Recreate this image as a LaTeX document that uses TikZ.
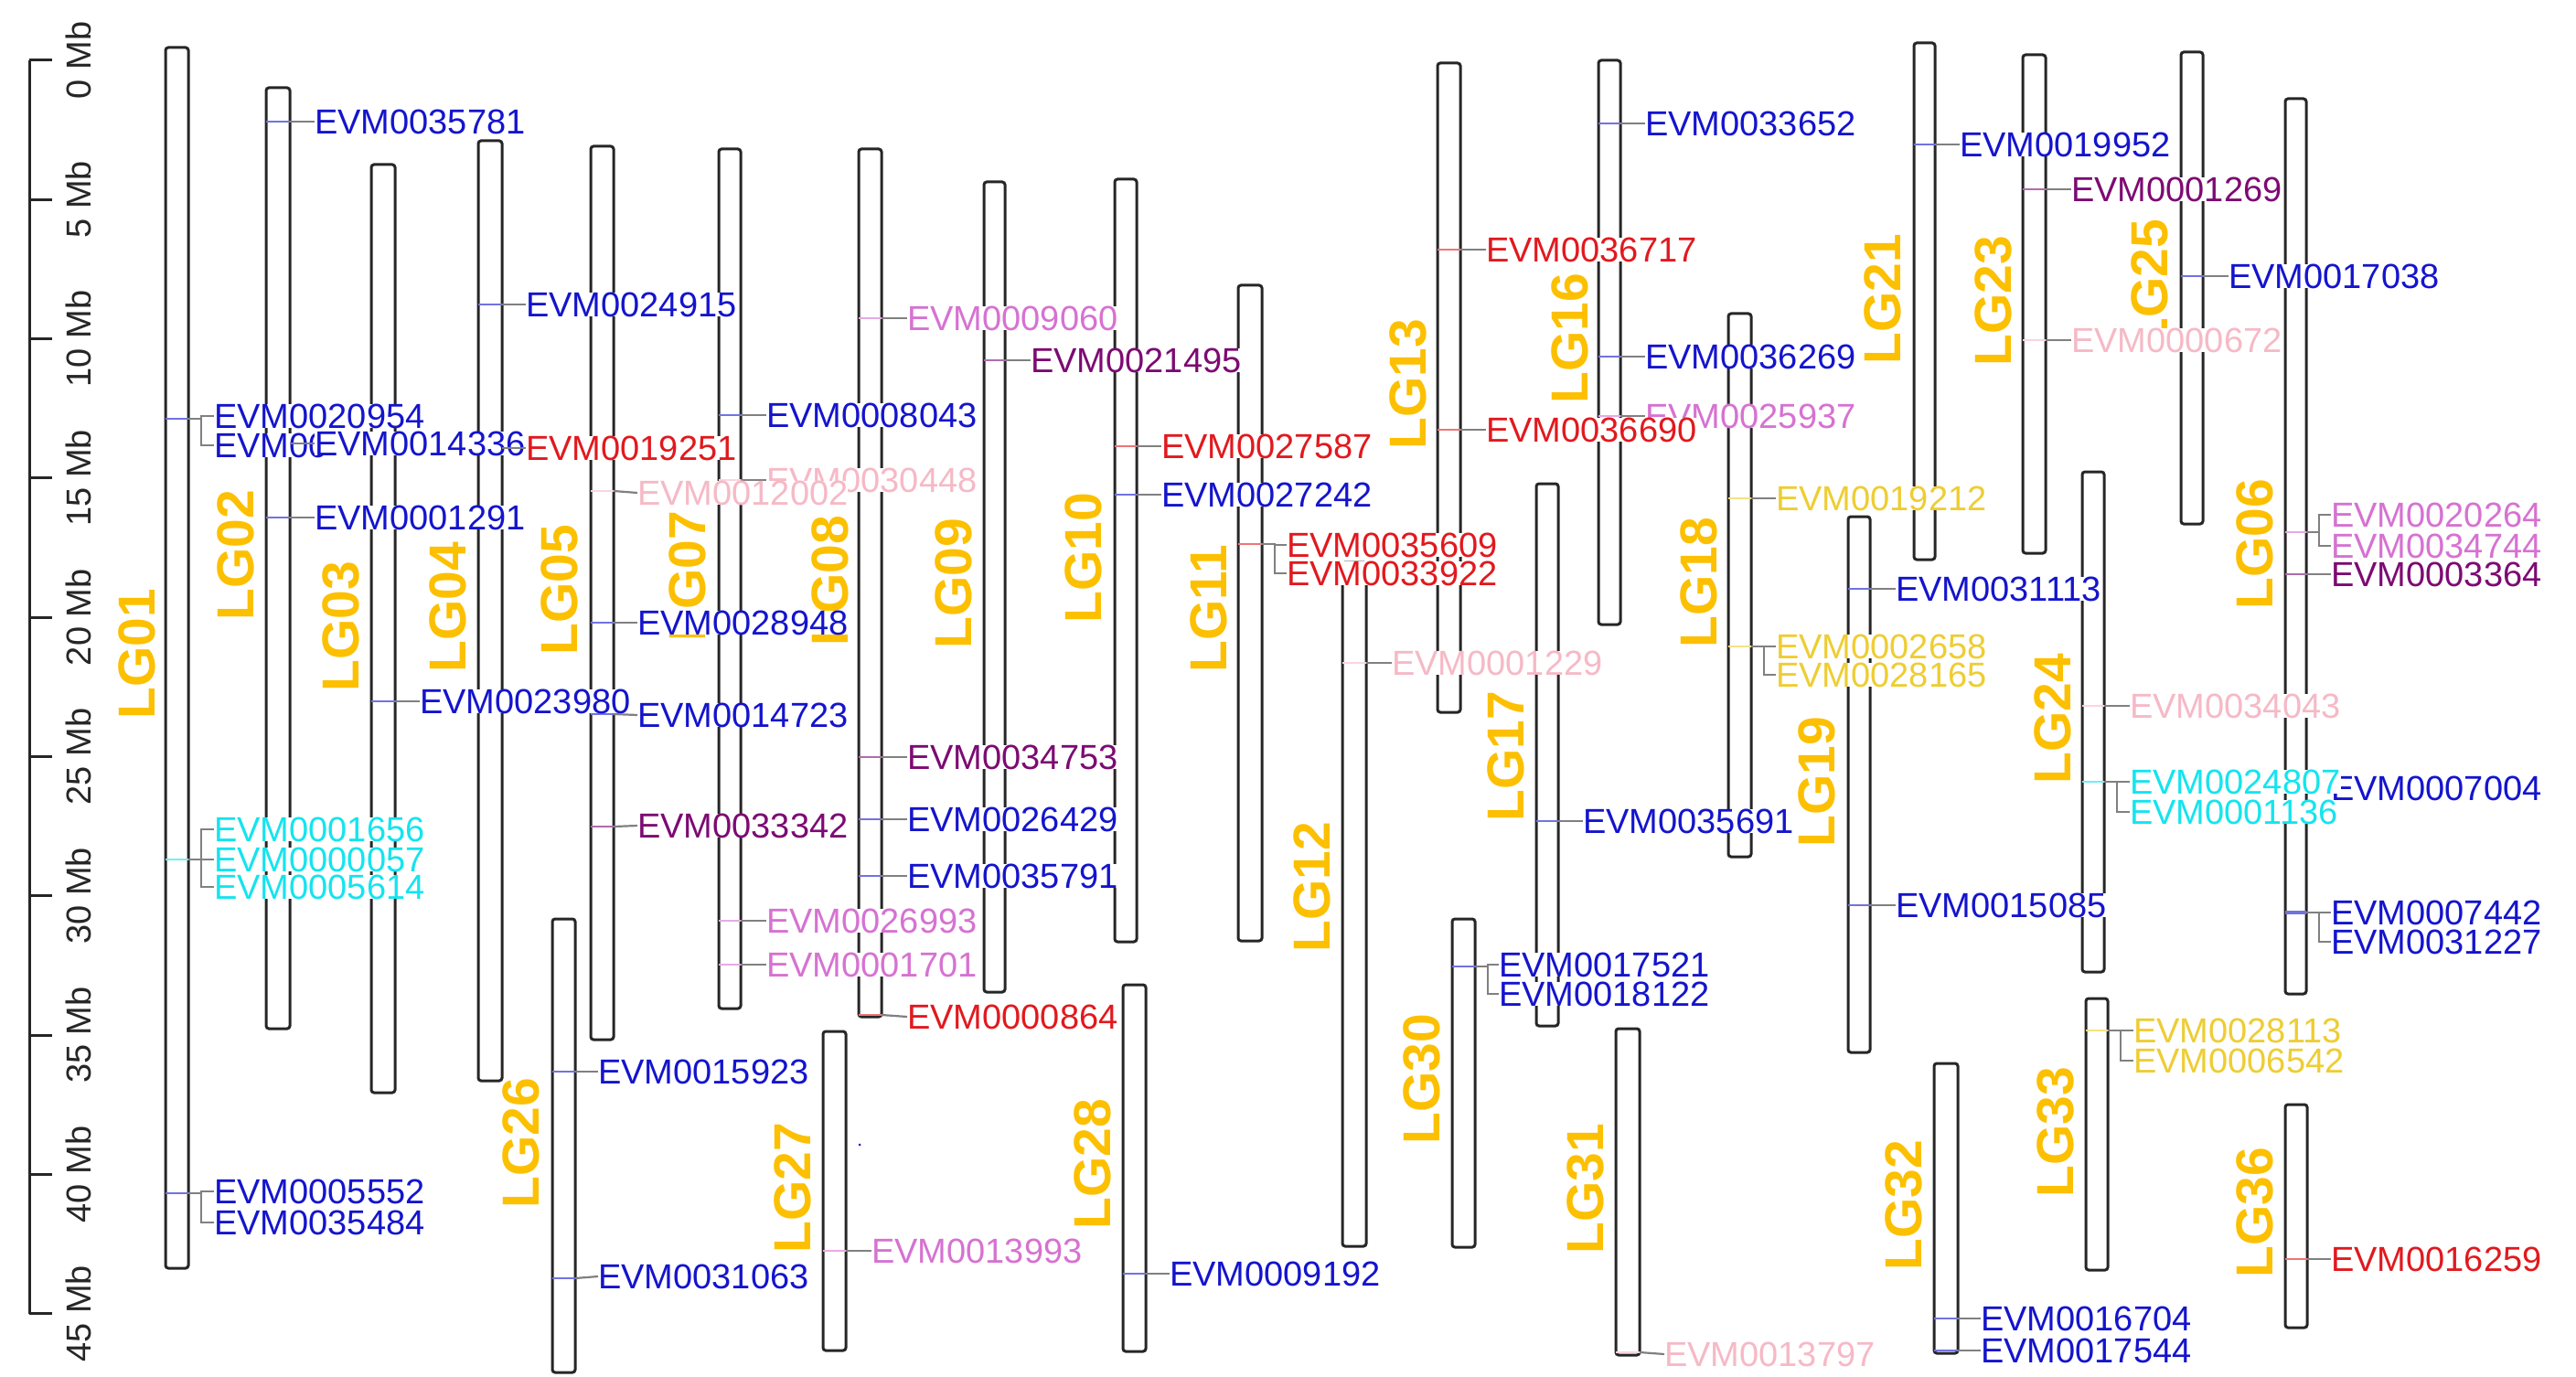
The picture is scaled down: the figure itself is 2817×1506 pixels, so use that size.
\documentclass[tikz,border=0pt]{standalone}
\usepackage{fontspec}
\setmainfont{Liberation Sans}
\usepackage{tikz}

\definecolor{lggold}{RGB}{252,192,0}
\definecolor{gblue}{RGB}{20,20,205}
\definecolor{gred}{RGB}{225,25,30}
\definecolor{gpink}{RGB}{246,185,198}
\definecolor{gorchid}{RGB}{214,114,210}
\definecolor{gpurple}{RGB}{125,10,115}
\definecolor{gcyan}{RGB}{20,228,238}
\definecolor{ggold}{RGB}{238,205,50}
\newcommand\genefont{\fontsize{38}{40}\selectfont}
\newcommand\lgfont{\fontsize{57}{60}\selectfont\bfseries}

\begin{document}
\begin{tikzpicture}
  [x=1pt, y=-1pt,
   chrom/.style={draw=black!85, line width=3pt, rounded corners=3pt},
   tag/.style={draw=#1!60, line width=2pt},
   link/.style={draw=gray, line width=2.2pt},
   lgname/.style={rotate=90, inner sep=0pt, font=\lgfont, text=lggold},
   gene/.style={anchor=west, inner sep=0pt, fill=white, font=\genefont, text=#1},
   axis/.style={draw=black!85, line width=3pt},
   mblabel/.style={rotate=90, inner sep=0pt, font=\genefont, text=black!85}]
  \useasboundingbox (0,0) rectangle (2817,1506);
  \fill[white] (0,0) rectangle (2817,1506);

  \draw[axis] (32,66) -- (32,1437);
  \foreach \k in {0,...,9} {
    \pgfmathsetmacro\ty{66+152.3*\k}
    \pgfmathtruncatemacro\mb{5*\k}
    \draw[axis] (32,\ty) -- (57,\ty);
    \node[mblabel] (mb\k) at (86,\ty) {\mb\ Mb};
  }

  \draw[chrom] (181,52) rectangle (206,1387);
  \draw[tag=gblue] (181,458) -- (206,458) coordinate (m20954);
  \draw[tag=gcyan] (181,940) -- (206,940) coordinate (m01656);
  \draw[tag=gblue] (181,1305) -- (206,1305) coordinate (m05552);

  \draw[chrom] (291,96) rectangle (317,1125);
  \draw[tag=gblue] (291,133) -- (317,133) coordinate (m35781);
  \draw[tag=gblue] (291,485) -- (317,485) coordinate (m14336);
  \draw[tag=gblue] (291,566) -- (317,566) coordinate (m01291);

  \draw[chrom] (406,180) rectangle (432,1195);
  \draw[tag=gblue] (406,767) -- (432,767) coordinate (m23980);

  \draw[chrom] (523,154) rectangle (549,1182);
  \draw[tag=gblue] (523,333) -- (549,333) coordinate (m24915);
  \draw[tag=gred] (523,490) -- (549,490) coordinate (m19251);

  \draw[chrom] (646,160) rectangle (671,1137);
  \draw[tag=gpink] (646,537) -- (671,537) coordinate (m12002);
  \draw[tag=gblue] (646,681) -- (671,681) coordinate (m28948);
  \draw[tag=gblue] (646,781) -- (671,781) coordinate (m14723);
  \draw[tag=gpurple] (646,904) -- (671,904) coordinate (m33342);

  \draw[chrom] (786,163) rectangle (810,1103);
  \draw[tag=gblue] (786,454) -- (810,454) coordinate (m08043);
  \draw[tag=gpink] (786,525) -- (810,525) coordinate (m30448);
  \draw[tag=gorchid] (786,1007) -- (810,1007) coordinate (m26993);
  \draw[tag=gorchid] (786,1055) -- (810,1055) coordinate (m01701);

  \draw[chrom] (939,163) rectangle (964,1112);
  \draw[tag=gorchid] (939,348) -- (964,348) coordinate (m09060);
  \draw[tag=gpurple] (939,828) -- (964,828) coordinate (m34753);
  \draw[tag=gblue] (939,896) -- (964,896) coordinate (m26429);
  \draw[tag=gblue] (939,958) -- (964,958) coordinate (m35791);
  \draw[tag=gred] (939,1110) -- (964,1110) coordinate (m00864);

  \draw[chrom] (1076,199) rectangle (1099,1085);
  \draw[tag=gpurple] (1076,394) -- (1099,394) coordinate (m21495);

  \draw[chrom] (1219,196) rectangle (1243,1030);
  \draw[tag=gred] (1219,488) -- (1243,488) coordinate (m27587);
  \draw[tag=gblue] (1219,541) -- (1243,541) coordinate (m27242);

  \draw[chrom] (1354,312) rectangle (1380,1029);
  \draw[tag=gred] (1354,595) -- (1380,595) coordinate (m35609);

  \draw[chrom] (1468,615) rectangle (1494,1363);
  \draw[tag=gpink] (1468,725) -- (1494,725) coordinate (m01229);

  \draw[chrom] (1572,69) rectangle (1597,779);
  \draw[tag=gred] (1572,273) -- (1597,273) coordinate (m36717);
  \draw[tag=gred] (1572,470) -- (1597,470) coordinate (m36690);

  \draw[chrom] (1748,66) rectangle (1772,683);
  \draw[tag=gblue] (1748,135) -- (1772,135) coordinate (m33652);
  \draw[tag=gblue] (1748,390) -- (1772,390) coordinate (m36269);
  \draw[tag=gorchid] (1748,455) -- (1772,455) coordinate (m25937);

  \draw[chrom] (1680,529) rectangle (1704,1122);
  \draw[tag=gblue] (1680,898) -- (1704,898) coordinate (m35691);

  \draw[chrom] (1890,343) rectangle (1915,937);
  \draw[tag=ggold] (1890,545) -- (1915,545) coordinate (m19212);
  \draw[tag=ggold] (1890,707) -- (1915,707) coordinate (m02658);

  \draw[chrom] (2021,565) rectangle (2045,1151);
  \draw[tag=gblue] (2021,644) -- (2045,644) coordinate (m31113);
  \draw[tag=gblue] (2021,990) -- (2045,990) coordinate (m15085);

  \draw[chrom] (2093,47) rectangle (2116,612);
  \draw[tag=gblue] (2093,158) -- (2116,158) coordinate (m19952);

  \draw[chrom] (2212,60) rectangle (2237,605);
  \draw[tag=gpurple] (2212,207) -- (2237,207) coordinate (m01269);
  \draw[tag=gpink] (2212,372) -- (2237,372) coordinate (m00672);

  \draw[chrom] (2385,57) rectangle (2409,573);
  \draw[tag=gblue] (2385,302) -- (2409,302) coordinate (m17038);

  \draw[chrom] (2499,108) rectangle (2522,1087);
  \draw[tag=gorchid] (2499,582) -- (2522,582) coordinate (m20264);
  \draw[tag=gpurple] (2499,628) -- (2522,628) coordinate (m03364);
  \draw[tag=gblue] (2499,862) -- (2522,862) coordinate (m07004);
  \draw[tag=gblue, line width=3.5pt] (2499,998) -- (2522,998) coordinate (m07442);

  \draw[chrom] (2277,516) rectangle (2301,1063);
  \draw[tag=gpink] (2277,772) -- (2301,772) coordinate (m34043);
  \draw[tag=gcyan] (2277,855) -- (2301,855) coordinate (m24807);

  \draw[chrom] (604,1005) rectangle (629,1501);
  \draw[tag=gblue] (604,1172) -- (629,1172) coordinate (m15923);
  \draw[tag=gblue] (604,1398) -- (629,1398) coordinate (m31063);

  \draw[chrom] (900,1128) rectangle (925,1477);
  \draw[tag=gorchid] (900,1368) -- (925,1368) coordinate (m13993);
  \fill[gblue] (940,1252) circle (1.5);

  \draw[chrom] (1228,1077) rectangle (1253,1478);
  \draw[tag=gblue] (1228,1393) -- (1253,1393) coordinate (m09192);

  \draw[chrom] (1588,1005) rectangle (1613,1364);
  \draw[tag=gblue] (1588,1057) -- (1613,1057) coordinate (m17521);

  \draw[chrom] (1767,1125) rectangle (1793,1482);
  \draw[tag=gpink] (1767,1479) -- (1793,1479) coordinate (m13797);

  \draw[chrom] (2115,1163) rectangle (2141,1480);
  \draw[tag=gblue] (2115,1442) -- (2141,1442) coordinate (m16704);
  \draw[tag=gblue] (2115,1477) -- (2141,1477) coordinate (m17544);

  \draw[chrom] (2281,1092) rectangle (2305,1389);
  \draw[tag=ggold] (2281,1127) -- (2305,1127) coordinate (m28113);

  \draw[chrom] (2499,1208) rectangle (2523,1452);
  \draw[tag=gred] (2499,1377) -- (2523,1377) coordinate (m16259);

  \node[lgname] (lg01) at (150,715) {LG01};
  \node[lgname] (lg02) at (258,607) {LG02};
  \node[lgname] (lg03) at (373,685) {LG03};
  \node[lgname] (lg04) at (490,664) {LG04};
  \node[lgname] (lg05) at (612,645) {LG05};
  \node[lgname] (lg07) at (752,630) {LG07};
  \node[lgname] (lg08) at (908,635) {LG08};
  \node[lgname] (lg09) at (1043,638) {LG09};
  \node[lgname] (lg10) at (1185,610) {LG10};
  \node[lgname] (lg11) at (1322,666) {LG11};
  \node[lgname] (lg12) at (1435,970) {LG12};
  \node[lgname] (lg13) at (1540,420) {LG13};
  \node[lgname] (lg16) at (1717,370) {LG16};
  \node[lgname] (lg17) at (1647,827) {LG17};
  \node[lgname] (lg18) at (1858,637) {LG18};
  \node[lgname] (lg19) at (1987,855) {LG19};
  \node[lgname] (lg21) at (2059,327) {LG21};
  \node[lgname] (lg23) at (2180,329) {LG23};
  \node[lgname] (lg25) at (2351,311) {LG25};
  \node[lgname] (lg06) at (2466,595) {LG06};
  \node[lgname] (lg24) at (2245,786) {LG24};
  \node[lgname] (lg26) at (570,1250) {LG26};
  \node[lgname] (lg27) at (867,1299) {LG27};
  \node[lgname] (lg28) at (1195,1273) {LG28};
  \node[lgname] (lg30) at (1555,1180) {LG30};
  \node[lgname] (lg31) at (1734,1300) {LG31};
  \node[lgname] (lg32) at (2082,1318) {LG32};
  \node[lgname] (lg33) at (2248,1238) {LG33};
  \node[lgname] (lg36) at (2466,1326) {LG36};

  \node[gene=gblue] (e20954) at (234,455) {EVM0020954};
  \node[gene=gblue] (e00) at (234,487) {EVM00};
  \node[gene=gcyan] (e01656) at (234,907) {EVM0001656};
  \node[gene=gcyan] (e00057) at (234,940) {EVM0000057};
  \node[gene=gcyan] (e05614) at (234,970) {EVM0005614};
  \node[gene=gblue] (e05552) at (234,1303) {EVM0005552};
  \node[gene=gblue] (e35484) at (234,1337) {EVM0035484};
  \draw[link] (m20954) -- ++(14,0) |- (e20954.west);
  \draw[link] (m20954) -- ++(14,0) |- (e00.west);
  \draw[link] (m01656) -- ++(14,0) |- (e01656.west);
  \draw[link] (m01656) -- ++(14,0) |- (e00057.west);
  \draw[link] (m01656) -- ++(14,0) |- (e05614.west);
  \draw[link] (m05552) -- ++(14,0) |- (e05552.west);
  \draw[link] (m05552) -- ++(14,0) |- (e35484.west);

  \node[gene=gblue] (e35781) at (344,133) {EVM0035781};
  \node[gene=gblue] (e14336) at (344,485) {EVM0014336};
  \node[gene=gblue] (e01291) at (344,566) {EVM0001291};
  \draw[link] (m35781) -- (e35781.west);
  \draw[link] (m14336) -- (e14336.west);
  \draw[link] (m01291) -- (e01291.west);

  \node[gene=gblue] (e23980) at (459,767) {EVM0023980};
  \draw[link] (m23980) -- (e23980.west);

  \node[gene=gblue] (e24915) at (575,333) {EVM0024915};
  \node[gene=gred] (e19251) at (575,490) {EVM0019251};
  \draw[link] (m24915) -- (e24915.west);
  \draw[link] (m19251) -- (e19251.west);

  \node[gene=gblue] (e08043) at (838,454) {EVM0008043};
  \node[gene=gpink] (e30448) at (838,525) {EVM0030448};
  \node[gene=gorchid] (e26993) at (838,1007) {EVM0026993};
  \node[gene=gorchid] (e01701) at (838,1055) {EVM0001701};
  \draw[link] (m08043) -- (e08043.west);
  \draw[link] (m30448) -- (e30448.west);
  \draw[link] (m26993) -- (e26993.west);
  \draw[link] (m01701) -- (e01701.west);

  \node[gene=gpink] (e12002) at (697,539) {EVM0012002};
  \node[gene=gblue] (e28948) at (697,681) {EVM0028948};
  \node[gene=gblue] (e14723) at (697,782) {EVM0014723};
  \node[gene=gpurple] (e33342) at (697,903) {EVM0033342};
  \draw[link] (m12002) -- (e12002.west);
  \draw[link] (m28948) -- (e28948.west);
  \draw[link] (m14723) -- (e14723.west);
  \draw[link] (m33342) -- (e33342.west);

  \node[gene=gorchid] (e09060) at (992,348) {EVM0009060};
  \node[gene=gpurple] (e34753) at (992,828) {EVM0034753};
  \node[gene=gblue] (e26429) at (992,896) {EVM0026429};
  \node[gene=gblue] (e35791) at (992,958) {EVM0035791};
  \node[gene=gred] (e00864) at (992,1112) {EVM0000864};
  \draw[link] (m09060) -- (e09060.west);
  \draw[link] (m34753) -- (e34753.west);
  \draw[link] (m26429) -- (e26429.west);
  \draw[link] (m35791) -- (e35791.west);
  \draw[link] (m00864) -- (e00864.west);

  \node[gene=gpurple] (e21495) at (1127,394) {EVM0021495};
  \draw[link] (m21495) -- (e21495.west);

  \node[gene=gred] (e27587) at (1270,488) {EVM0027587};
  \node[gene=gblue] (e27242) at (1270,541) {EVM0027242};
  \draw[link] (m27587) -- (e27587.west);
  \draw[link] (m27242) -- (e27242.west);

  \node[gene=gred] (e35609) at (1407,596) {EVM0035609};
  \node[gene=gred] (e33922) at (1407,627) {EVM0033922};
  \draw[link] (m35609) -- ++(14,0) |- (e35609.west);
  \draw[link] (m35609) -- ++(14,0) |- (e33922.west);

  \node[gene=gpink] (e01229) at (1522,725) {EVM0001229};
  \draw[link] (m01229) -- (e01229.west);

  \node[gene=gblue] (e33652) at (1799,135) {EVM0033652};
  \node[gene=gblue] (e36269) at (1799,390) {EVM0036269};
  \node[gene=gorchid] (e25937) at (1799,455) {EVM0025937};
  \draw[link] (m33652) -- (e33652.west);
  \draw[link] (m36269) -- (e36269.west);
  \draw[link] (m25937) -- (e25937.west);

  \node[gene=gred] (e36717) at (1625,273) {EVM0036717};
  \node[gene=gred] (e36690) at (1625,470) {EVM0036690};
  \draw[link] (m36717) -- (e36717.west);
  \draw[link] (m36690) -- (e36690.west);

  \node[gene=gblue] (e35691) at (1731,898) {EVM0035691};
  \draw[link] (m35691) -- (e35691.west);

  \node[gene=ggold] (e19212) at (1942,545) {EVM0019212};
  \node[gene=ggold] (e02658) at (1942,707) {EVM0002658};
  \node[gene=ggold] (e28165) at (1942,738) {EVM0028165};
  \draw[link] (m19212) -- (e19212.west);
  \draw[link] (m02658) -- ++(14,0) |- (e02658.west);
  \draw[link] (m02658) -- ++(14,0) |- (e28165.west);

  \node[gene=gblue] (e31113) at (2073,644) {EVM0031113};
  \node[gene=gblue] (e15085) at (2073,990) {EVM0015085};
  \draw[link] (m31113) -- (e31113.west);
  \draw[link] (m15085) -- (e15085.west);

  \node[gene=gblue] (e19952) at (2143,158) {EVM0019952};
  \draw[link] (m19952) -- (e19952.west);

  \node[gene=gpurple] (e01269) at (2265,207) {EVM0001269};
  \node[gene=gpink] (e00672) at (2265,372) {EVM0000672};
  \draw[link] (m01269) -- (e01269.west);
  \draw[link] (m00672) -- (e00672.west);

  \node[gene=gblue] (e17038) at (2437,302) {EVM0017038};
  \draw[link] (m17038) -- (e17038.west);

  \node[gene=gorchid] (e20264) at (2549,563) {EVM0020264};
  \node[gene=gorchid] (e34744) at (2549,597) {EVM0034744};
  \node[gene=gpurple] (e03364) at (2549,628) {EVM0003364};
  \node[gene=gblue] (e07004) at (2549,862) {EVM0007004};
  \node[gene=gblue] (e07442) at (2549,998) {EVM0007442};
  \node[gene=gblue] (e31227) at (2549,1030) {EVM0031227};
  \draw[link] (m20264) -- ++(14,0) |- (e20264.west);
  \draw[link] (m20264) -- ++(14,0) |- (e34744.west);
  \draw[link] (m03364) -- (e03364.west);
  \draw[link] (m07004) -- (e07004.west);
  \draw[link] (m07442) -- ++(14,0) |- (e07442.west);
  \draw[link] (m07442) -- ++(14,0) |- (e31227.west);

  \node[gene=gpink] (e34043) at (2329,772) {EVM0034043};
  \node[gene=gcyan] (e24807) at (2329,855) {EVM0024807};
  \node[gene=gcyan] (e01136) at (2329,888) {EVM0001136};
  \draw[link] (m34043) -- (e34043.west);
  \draw[link] (m24807) -- ++(14,0) |- (e24807.west);
  \draw[link] (m24807) -- ++(14,0) |- (e01136.west);

  \node[gene=gblue] (e15923) at (654,1172) {EVM0015923};
  \node[gene=gblue] (e31063) at (654,1396) {EVM0031063};
  \draw[link] (m15923) -- (e15923.west);
  \draw[link] (m31063) -- (e31063.west);

  \node[gene=gorchid] (e13993) at (953,1368) {EVM0013993};
  \draw[link] (m13993) -- (e13993.west);

  \node[gene=gblue] (e09192) at (1279,1393) {EVM0009192};
  \draw[link] (m09192) -- (e09192.west);

  \node[gene=gblue] (e17521) at (1639,1055) {EVM0017521};
  \node[gene=gblue] (e18122) at (1639,1087) {EVM0018122};
  \draw[link] (m17521) -- ++(14,0) |- (e17521.west);
  \draw[link] (m17521) -- ++(14,0) |- (e18122.west);

  \node[gene=gpink] (e13797) at (1820,1481) {EVM0013797};
  \draw[link] (m13797) -- (e13797.west);

  \node[gene=gblue] (e16704) at (2166,1442) {EVM0016704};
  \node[gene=gblue] (e17544) at (2166,1477) {EVM0017544};
  \draw[link] (m16704) -- (e16704.west);
  \draw[link] (m17544) -- (e17544.west);

  \node[gene=ggold] (e28113) at (2333,1127) {EVM0028113};
  \node[gene=ggold] (e06542) at (2333,1160) {EVM0006542};
  \draw[link] (m28113) -- ++(14,0) |- (e28113.west);
  \draw[link] (m28113) -- ++(14,0) |- (e06542.west);

  \node[gene=gred] (e16259) at (2549,1377) {EVM0016259};
  \draw[link] (m16259) -- (e16259.west);
\end{tikzpicture}
\end{document}
